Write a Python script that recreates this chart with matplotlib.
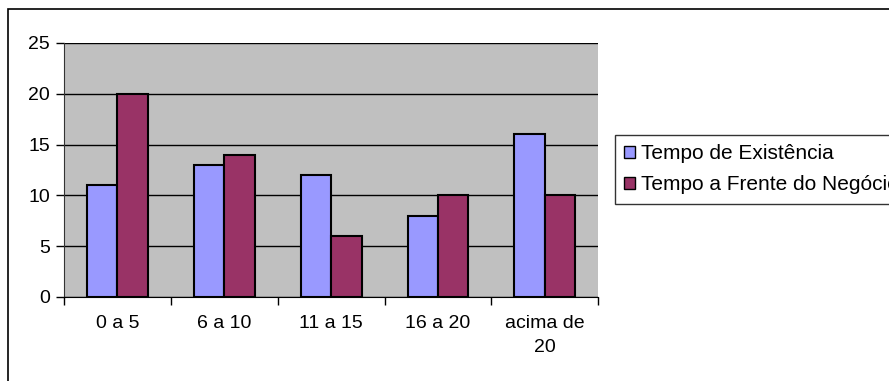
import numpy as np
import matplotlib
matplotlib.use("Agg")
import matplotlib.pyplot as plt
from matplotlib.patches import Rectangle, Patch

plt.rcParams['font.family']=['Liberation Sans','DejaVu Sans']

categorias=["0 a 5","6 a 10","11 a 15","16 a 20","acima de\n20"]
existencia=[11,13,12,8,16]
frente=[20,14,6,10,10]
series=["Tempo de Existência","Tempo a Frente do Negócio"]
cores=["#9999FF","#993366"]

fig=plt.figure(figsize=(8.89,3.81),dpi=100)
ax=fig.add_axes([0.072,0.2205,0.601,0.667])
ax.set_facecolor("#C0C0C0")

x=np.arange(len(categorias))
w=0.285
ax.bar(x-w/2,existencia,w,color=cores[0],edgecolor="black",lw=1.5,zorder=3)
ax.bar(x+w/2,frente,w,color=cores[1],edgecolor="black",lw=1.5,zorder=3)

ax.set_xlim(-0.5,len(categorias)-0.5)
ax.set_ylim(0,25)
ax.set_yticks(range(0,26,5))
ax.yaxis.grid(True,color="black",lw=1,zorder=1)
ax.set_axisbelow(True)
ax.set_xticks(np.arange(-0.5,len(categorias),1))
ax.set_xticklabels([])
ax.set_xticks(x,minor=True)
ax.set_xticklabels(categorias,minor=True,fontsize=14,linespacing=1.55)
ax.tick_params(axis="x",which="minor",length=0,pad=13)
ax.tick_params(axis="x",which="major",length=6,direction="out",width=1)
ax.tick_params(axis="y",length=6,direction="out",width=1,labelsize=14,pad=4)
for s in ["top","right"]:
    ax.spines[s].set_visible(False)
ax.spines["left"].set_color("#333333")
ax.spines["bottom"].set_color("black")

# borda da figura
fig.patches.append(Rectangle((8/889,-0.1),1.2,1-9/381+0.1,transform=fig.transFigure,
                             fill=False,edgecolor="black",lw=1.2,clip_on=False))

handles=[Patch(facecolor=c,edgecolor="black",lw=1) for c in cores]
leg=fig.legend(handles,series,loc="upper left",bbox_to_anchor=(615/889,1-135/381),
               fontsize=15,frameon=True,fancybox=False,handlelength=0.5,handleheight=0.5,
               handletextpad=0.3,borderpad=0.45,labelspacing=0.58,borderaxespad=0)
leg.get_frame().set_edgecolor("black")
leg.get_frame().set_linewidth(1)

plt.savefig("out.png",dpi=100)
